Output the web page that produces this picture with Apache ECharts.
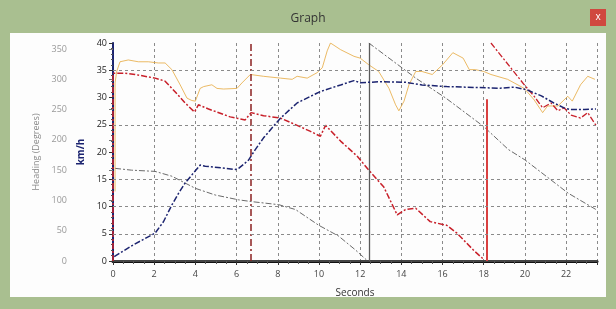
<!DOCTYPE html>
<html>
<head>
<meta charset="utf-8">
<script src="https://cdn.jsdelivr.net/npm/echarts@6/dist/echarts.min.js"></script>
<style>
  html, body { margin: 0; padding: 0; }
  #graph { width: 616px; height: 309px; }
</style>
</head>
<body>
<div id="graph"></div>
<script>
// x = seconds
var xTicks = [0, 2, 4, 6, 8, 10, 12, 14, 16, 18, 20, 22];
var headingTicks = [0, 50, 100, 150, 200, 250, 300, 350];
var speedTicks = [0, 5, 10, 15, 20, 25, 30, 35, 40];
var speedGrid = [5, 10, 15, 25, 35];

// km/h
var speed = [
  [0.06, 0.8], [1.0, 3.0], [2.04, 5.1], [2.45, 7.2], [2.86, 10.3], [3.18, 12.4], [3.5, 14.3],
  [4.23, 17.6], [4.48, 17.4], [5.94, 16.8], [6.1, 17.0], [6.58, 18.5], [6.9, 20.4],
  [7.31, 22.6], [8.13, 26.2], [8.94, 29.0], [10.07, 31.1], [11.05, 32.3], [11.7, 33.1],
  [12.0, 32.7], [13.0, 32.9], [14.2, 32.8], [15.0, 32.3], [16.2, 32.0], [17.1, 31.9],
  [18.8, 31.7], [19.5, 31.9], [20.1, 31.4], [20.8, 30.3], [21.4, 29.0], [21.9, 28.1],
  [22.2, 27.8], [22.9, 27.8], [23.45, 27.9]
];

// degrees
var heading = [
  [0.1, 115], [0.1, 294], [0.18, 313], [0.34, 329], [0.74, 332], [1.23, 329], [1.72, 329],
  [2.2, 327], [2.53, 327], [2.86, 316], [3.26, 291], [3.59, 269], [3.83, 265], [4.0, 264],
  [4.23, 285], [4.4, 288], [4.8, 291], [5.05, 285], [5.37, 284], [6.02, 285], [6.26, 294],
  [6.67, 308], [7.31, 305], [8.13, 302], [8.7, 300], [8.94, 305], [9.43, 302], [9.91, 311],
  [10.16, 319], [10.4, 347], [10.56, 360], [11.05, 349], [11.7, 338], [12.0, 335],
  [12.42, 324], [12.9, 313], [13.4, 285], [13.72, 258], [13.88, 248], [14.13, 264],
  [14.37, 291], [14.7, 313], [15.0, 313], [15.5, 308], [16.0, 324], [16.5, 344], [17.0, 335],
  [17.3, 316], [17.6, 316], [18.0, 313], [18.35, 308], [19.16, 300], [19.97, 285],
  [20.45, 266], [20.86, 245], [21.1, 256], [21.6, 256], [22.08, 272], [22.3, 264],
  [22.7, 291], [23.05, 305], [23.4, 300]
];

var redTrackA = [
  [0, 0], [0, 310], [0.58, 310], [1.07, 308], [2.04, 302], [2.53, 297], [3.0, 280],
  [3.5, 261], [3.96, 246], [4.15, 258], [4.64, 251], [5.69, 238], [6.42, 233], [6.7, 245],
  [7.31, 240], [8.13, 236], [8.94, 224], [9.59, 214], [10.07, 206], [10.32, 224],
  [11.05, 198], [11.86, 173], [12.42, 150], [13.15, 122], [13.8, 76], [14.2, 85],
  [14.7, 87], [15.4, 65], [16.2, 59], [16.7, 46], [17.5, 18], [18.02, 2]
];
var redTrackB = [
  [18.35, 360], [19.97, 291], [20.45, 272], [20.86, 253], [21.27, 261], [21.6, 248],
  [21.9, 253], [22.24, 241], [22.7, 236], [23.05, 245], [23.45, 224]
];

var grayTrackA = [
  [0.1, 153], [0.9, 150], [2.04, 148], [2.86, 140], [4.0, 120], [4.96, 109], [6.1, 101],
  [6.75, 98], [8.05, 93], [8.86, 85], [9.99, 59], [10.96, 41], [11.78, 18], [12.3, 2]
];
var grayTrackB = [
  [12.42, 360], [14.7, 302], [16.16, 269], [18.0, 222], [19.2, 184], [20.0, 167],
  [22.1, 112], [23.45, 85]
];

var cursorA = 6.7;
var wrapGray = 12.42;
var wrapRed = [18.15, 0, 267];

var dashDot = [6, 2, 2, 2];
var font = 'Open Sans';

var chart = echarts.init(document.getElementById('graph'), null, { renderer: 'canvas' });

function noMark() {
  return { symbol: 'none', silent: true, animation: false, label: { show: false } };
}

var option = {
  animation: false,
  backgroundColor: '#a9bf90',
  textStyle: { fontFamily: font },
  title: {
    text: 'Graph', left: 'center', top: 8,
    textStyle: { fontSize: 12, fontWeight: 'normal', color: '#333', fontFamily: font }
  },
  graphic: [
    { type: 'rect', shape: { x: 10, y: 33, width: 596, height: 264 }, style: { fill: '#fdfdfd' }, z: -10 },
    { type: 'rect', shape: { x: 590, y: 9, width: 16, height: 17 }, style: { fill: '#d0483f' } },
    { type: 'text', x: 598, y: 17, style: { text: 'x', fill: '#fff', fontSize: 10, align: 'center', verticalAlign: 'middle', fontFamily: font } }
  ],
  grid: { left: 113, top: 43, right: 19, bottom: 48 },
  xAxis: [
    {
      type: 'value', min: 0, max: 23.5, interval: 2,
      name: 'Seconds', nameLocation: 'middle', nameGap: 27,
      nameTextStyle: { color: '#333', fontSize: 10 },
      axisLine: { lineStyle: { color: '#111', width: 3 } },
      axisTick: { length: 4, lineStyle: { color: '#333' } },
      minorTick: { show: true, splitNumber: 4, length: 3, lineStyle: { color: '#555' } },
      axisLabel: { color: '#444', fontSize: 9, margin: 9,
        formatter: function (v) { return xTicks.indexOf(v) >= 0 ? String(v) : ''; } },
      splitLine: { show: true, lineStyle: { color: '#8a8a8a', type: [3, 3], width: 1 } }
    },
    {
      type: 'value', min: 0, max: 23.5, position: 'top',
      axisLine: { show: true, lineStyle: { color: '#444', width: 2 } },
      axisTick: { show: false }, axisLabel: { show: false }, splitLine: { show: false }
    }
  ],
  yAxis: [
    {
      type: 'value', min: 0, max: 360, interval: 50, position: 'left', offset: 41,
      name: 'Heading (Degrees)', nameLocation: 'middle', nameGap: 29,
      nameTextStyle: { color: '#8a8a8a', fontSize: 9 },
      axisLine: { show: true, lineStyle: { color: '#555', width: 1 } },
      axisTick: { show: true, length: 4, lineStyle: { color: '#777' } },
      axisLabel: { color: '#999', fontSize: 9, margin: 5,
        formatter: function (v) { return headingTicks.indexOf(v) >= 0 ? String(v) : ''; } },
      splitLine: { show: false }
    },
    {
      type: 'value', min: 0, max: 40, interval: 5, position: 'left',
      name: 'km/h', nameLocation: 'middle', nameGap: 23,
      nameTextStyle: { color: '#1c2470', fontSize: 10, fontWeight: 'bold' },
      axisLine: { show: true, lineStyle: { color: '#1c2470', width: 2 } },
      axisTick: { show: true, length: 4, lineStyle: { color: '#333' } },
      minorTick: { show: true, splitNumber: 5, length: 2, lineStyle: { color: '#555' } },
      axisLabel: { color: '#222', fontSize: 9, margin: 6,
        formatter: function (v) { return speedTicks.indexOf(v) >= 0 ? String(v) : ''; } },
      splitLine: { show: false }
    }
  ],
  series: [
    {
      name: 'Heading', type: 'line', yAxisIndex: 0, data: heading, showSymbol: false,
      lineStyle: { color: '#e6a93e', width: 1, opacity: 0.8 }, z: 3
    },
    {
      name: 'Track A', type: 'line', yAxisIndex: 0, data: redTrackA, showSymbol: false,
      lineStyle: { color: '#c8202a', width: 1.5, type: dashDot }, z: 4,
      markLine: Object.assign(noMark(), {
        data: [
          [{ coord: [wrapRed[0], wrapRed[1]], lineStyle: { color: '#d94040', width: 2, type: 'solid' } },
           { coord: [wrapRed[0], wrapRed[2]] }],
          { xAxis: cursorA, lineStyle: { color: '#8b2020', width: 1.5, type: [7, 3, 2, 3] } }
        ]
      })
    },
    {
      name: 'Track B', type: 'line', yAxisIndex: 0, data: redTrackB, showSymbol: false,
      lineStyle: { color: '#c8202a', width: 1.3, type: dashDot }, z: 4
    },
    {
      name: 'Gray A', type: 'line', yAxisIndex: 0, data: grayTrackA, showSymbol: false,
      lineStyle: { color: '#6a6a6a', width: 1, type: dashDot }, z: 2,
      markLine: Object.assign(noMark(), {
        data: [{ xAxis: wrapGray, lineStyle: { color: '#5a5a5a', width: 1.3, type: 'solid' } }]
      })
    },
    {
      name: 'Gray B', type: 'line', yAxisIndex: 0, data: grayTrackB, showSymbol: false,
      lineStyle: { color: '#6a6a6a', width: 1, type: dashDot }, z: 2
    },
    {
      name: 'Speed', type: 'line', yAxisIndex: 1, data: speed, showSymbol: false,
      lineStyle: { color: '#1c2470', width: 1.5, type: dashDot }, z: 5,
      markLine: Object.assign(noMark(), {
        data: speedGrid.map(function (v) {
          return { yAxis: v, lineStyle: { color: '#8a8a8a', width: 1, type: [3, 3] } };
        })
      })
    }
  ]
};

chart.setOption(option);
</script>
</body>
</html>
